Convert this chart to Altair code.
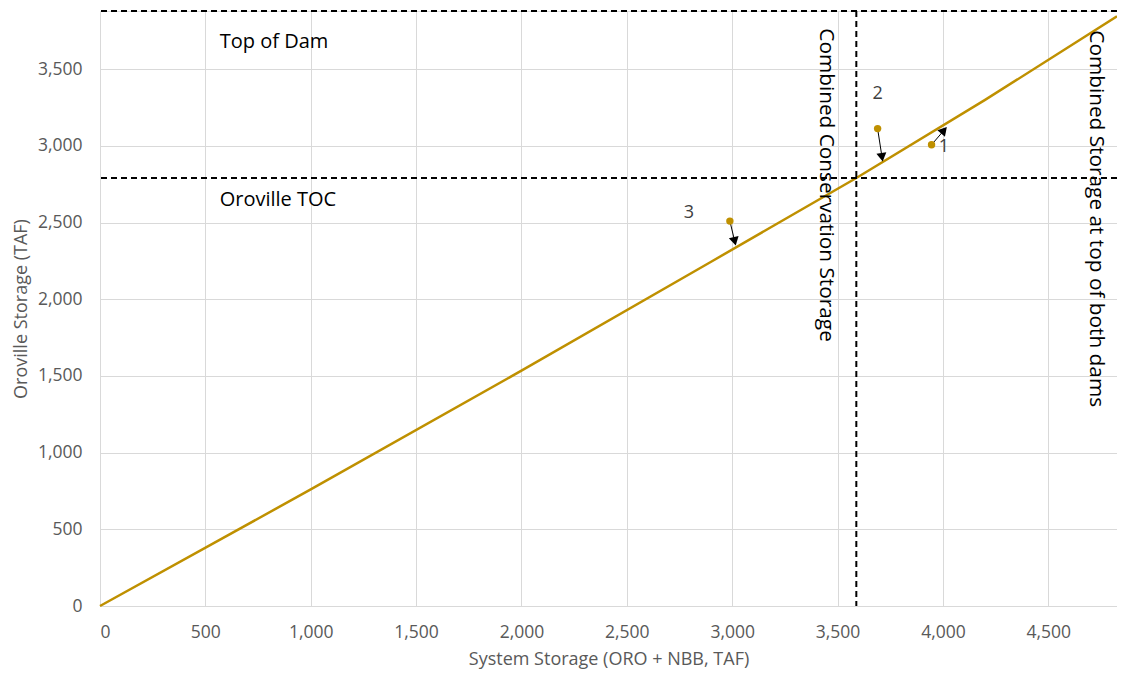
import math
import altair as alt
import pandas as pd

# ---- data ----
curve_x = [0, 1000, 2000, 2900, 3589, 4200, 4826]
curve_y = [0, 760, 1535, 2245, 2791, 3300, 3845]

pt_label = ["1", "2", "3"]
pt_x = [3946, 3690, 2989]
pt_y = [3008, 3113, 2510]
arrow_end_x = [4005, 3711, 3012]
arrow_end_y = [3102, 2926, 2378]

top_of_dam = 3880
oroville_toc = 2791
combined_conservation = 3589

x_ticks = [0, 500, 1000, 1500, 2000, 2500, 3000, 3500, 4000, 4500]
y_ticks = [0, 500, 1000, 1500, 2000, 2500, 3000, 3500]

XMAX, YMAX = 4826, 3880
W, H = 1017, 595
GOLD = "#BF9000"
FONT = "Open Sans"

xs = alt.Scale(domain=[0, XMAX], nice=False, zero=True)
ys = alt.Scale(domain=[0, YMAX], nice=False, zero=True)

curve = pd.DataFrame({"x": curve_x, "y": curve_y})
pts = pd.DataFrame({"label": pt_label, "x": pt_x, "y": pt_y,
                    "ex": arrow_end_x, "ey": arrow_end_y})
sx, sy = W / XMAX, H / YMAX
pts["angle"] = [
    (math.degrees(math.atan2((ex - x) * sx, (ey - y) * sy)) + 360) % 360
    for x, y, ex, ey in zip(pts.x, pts.y, pts.ex, pts.ey)
]

xaxis = alt.Axis(values=x_ticks, format=",.0f", title="System Storage (ORO + NBB, TAF)",
                 grid=True, gridColor="#d9d9d9", domainColor="#d9d9d9", ticks=False,
                 labelFont=FONT, labelFontSize=17.5, labelColor="#595959", labelPadding=17,
                 titleFont=FONT, titleFontSize=18, titleColor="#595959",
                 titleFontWeight="normal", titlePadding=10)
yaxis = alt.Axis(values=y_ticks, format=",.0f", title="Oroville Storage (TAF)",
                 grid=True, gridColor="#d9d9d9", domain=False, ticks=False,
                 labelFont=FONT, labelFontSize=17.5, labelColor="#595959", labelPadding=18,
                 titleFont=FONT, titleFontSize=18, titleColor="#595959",
                 titleFontWeight="normal", titlePadding=7)

base_line = alt.Chart(curve).mark_line(color=GOLD, strokeWidth=2.5).encode(
    x=alt.X("x:Q", scale=xs, axis=xaxis),
    y=alt.Y("y:Q", scale=ys, axis=yaxis),
)

hlines = alt.Chart(pd.DataFrame({"y": [top_of_dam, oroville_toc]})).mark_rule(
    color="black", strokeWidth=2, strokeDash=[6, 4]
).encode(y=alt.Y("y:Q", scale=ys))

vline = alt.Chart(pd.DataFrame({"x": [combined_conservation]})).mark_rule(
    color="black", strokeWidth=2, strokeDash=[6, 4]
).encode(x=alt.X("x:Q", scale=xs))

dots = alt.Chart(pts).mark_circle(color=GOLD, size=55, opacity=1).encode(
    x=alt.X("x:Q", scale=xs), y=alt.Y("y:Q", scale=ys))

shafts = alt.Chart(pts).mark_rule(color="black", strokeWidth=1).encode(
    x=alt.X("x:Q", scale=xs), y=alt.Y("y:Q", scale=ys),
    x2="ex:Q", y2="ey:Q")

heads = alt.Chart(pts).mark_point(shape="triangle-up", filled=True, color="black",
                                  size=100, opacity=1).encode(
    x=alt.X("ex:Q", scale=xs), y=alt.Y("ey:Q", scale=ys),
    angle=alt.Angle("angle:Q", scale=None))

lab_df = pd.DataFrame({"label": pt_label, "x": [4005, 3690, 2795], "y": [2995, 3340, 2565]})
pt_labels = alt.Chart(lab_df).mark_text(font=FONT, fontSize=18, color="#404040",
                                        align="center", baseline="middle").encode(
    x=alt.X("x:Q", scale=xs), y=alt.Y("y:Q", scale=ys), text="label:N")

ann = pd.DataFrame({"text": ["Top of Dam", "Oroville TOC"], "x": [568, 568], "y": [3676, 2645]})
ann_text = alt.Chart(ann).mark_text(font=FONT, fontSize=20, color="black",
                                    align="left", baseline="middle").encode(
    x=alt.X("x:Q", scale=xs), y=alt.Y("y:Q", scale=ys), text="text:N")

vann = pd.DataFrame({"text": ["Combined Conservation Storage", "Combined Storage at top of both dams"],
                     "x": [3445, 4726], "y": [3767, 3754]})
vann_text = alt.Chart(vann).mark_text(font=FONT, fontSize=20.8, color="black", angle=90,
                                      align="left", baseline="middle").encode(
    x=alt.X("x:Q", scale=xs), y=alt.Y("y:Q", scale=ys), text="text:N")

chart = alt.layer(base_line, hlines, vline, shafts, heads, dots, pt_labels, ann_text, vann_text).properties(
    width=W, height=H,
    autosize=alt.AutoSizeParams(type="none"),
    padding={"left": 92, "top": 3, "right": 0, "bottom": 67},
).configure_view(stroke=None).configure(background="white")

chart.save("out.html", embed_options={"renderer": "svg", "actions": False})
